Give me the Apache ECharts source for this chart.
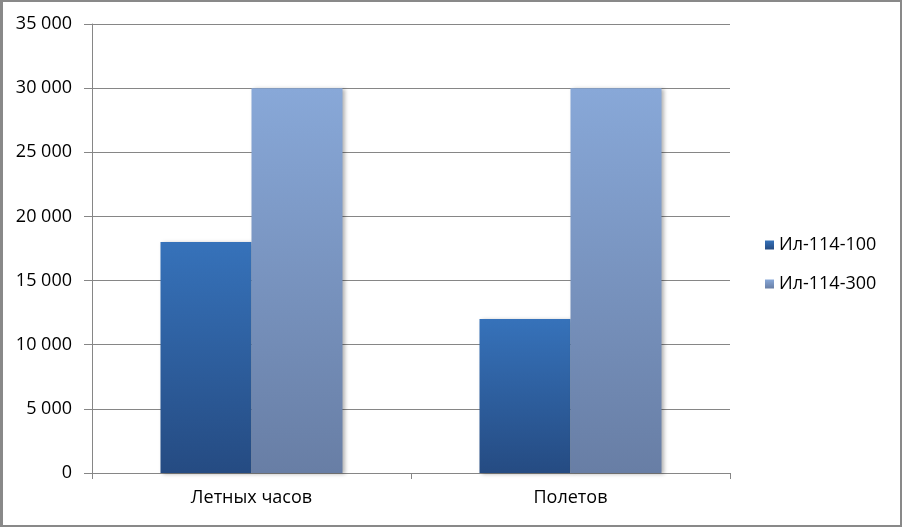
<!DOCTYPE html>
<html>
<head>
<meta charset="utf-8">
<script src="https://cdn.jsdelivr.net/npm/echarts@6/dist/echarts.min.js"></script>
<style>
  html, body { margin: 0; padding: 0; background: #fff; }
  #chart {
    width: 902px;
    height: 527px;
    box-sizing: border-box;
    border: 2px solid #898989;
    border-left-width: 3px;
  }
</style>
</head>
<body>
<div id="chart"></div>
<script>
// data
var categories = ['Летных часов', 'Полетов']
var seriesNames = ['Ил-114-100', 'Ил-114-300']
var il100 = [18000, 12000]
var il300 = [30000, 30000]

function grad(top, bottom) {
  return new echarts.graphic.LinearGradient(0, 0, 0, 1, [
    { offset: 0, color: top },
    { offset: 1, color: bottom }
  ])
}

var myChart = echarts.init(document.getElementById('chart'))

var shadow = {
  shadowColor: 'rgba(0,0,0,0.3)',
  shadowBlur: 4,
  shadowOffsetX: 2,
  shadowOffsetY: 1
}

var option = {
  animation: false,
  textStyle: { fontFamily: 'Open Sans', color: '#000' },
  grid: { left: 89, right: 170, top: 22, bottom: 52, containLabel: false },
  legend: {
    orient: 'vertical',
    left: 757,
    top: 229,
    itemWidth: 9,
    itemHeight: 9,
    itemGap: 21,
    icon: 'rect',
    textStyle: { fontSize: 18, color: '#000', fontFamily: 'Open Sans' },
    data: seriesNames
  },
  xAxis: {
    type: 'category',
    data: categories,
    axisLine: { lineStyle: { color: '#868686', width: 1 } },
    axisTick: { show: true, length: 6, lineStyle: { color: '#868686' } },
    axisLabel: { fontSize: 18, color: '#000', margin: 16 }
  },
  yAxis: {
    type: 'value',
    min: 0,
    max: 35000,
    interval: 5000,
    axisLine: { show: true, lineStyle: { color: '#868686', width: 1 } },
    axisTick: { show: true, length: 8, lineStyle: { color: '#868686' } },
    splitLine: { lineStyle: { color: '#868686', width: 1 } },
    axisLabel: {
      fontSize: 18,
      color: '#000',
      margin: 20,
      formatter: function (v) {
        return String(v).replace(/\B(?=(\d{3})+(?!\d))/g, ' ')
      }
    }
  },
  series: [
    {
      name: seriesNames[0],
      type: 'bar',
      data: il100,
      barWidth: 91,
      barGap: '0%',
      itemStyle: Object.assign({ color: grad('#3672ba', '#254b82') }, shadow)
    },
    {
      name: seriesNames[1],
      type: 'bar',
      data: il300,
      barWidth: 91,
      barGap: '0%',
      itemStyle: Object.assign({ color: grad('#88a8d8', '#687ea5') }, shadow)
    }
  ]
}

myChart.setOption(option)
</script>
</body>
</html>
